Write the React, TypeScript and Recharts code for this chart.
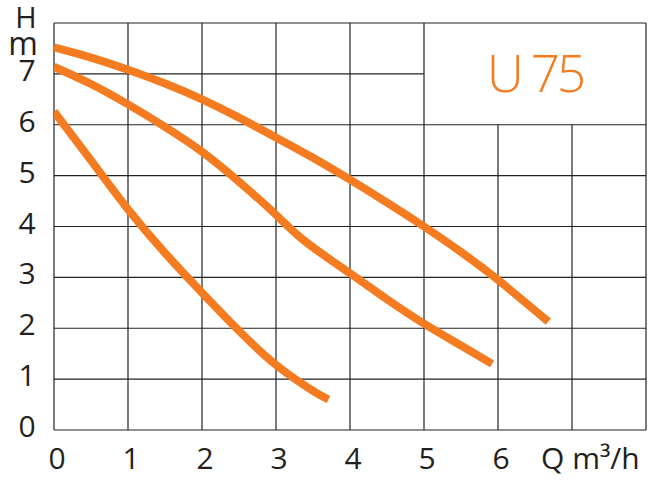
import React from 'react';
import { LineChart, Line, XAxis, YAxis, ReferenceLine, ReferenceArea, Label } from 'recharts';

// Pump curves (Q in m³/h, H in m)
const flowHigh = [0, 0.5, 1, 1.5, 2, 2.5, 3, 3.5, 4, 4.5, 5, 5.5, 6, 6.68];
const headHigh = [7.52, 7.32, 7.08, 6.81, 6.5, 6.14, 5.75, 5.35, 4.92, 4.47, 4.0, 3.5, 2.95, 2.13];
const flowMid = [0, 0.5, 1, 1.5, 2, 2.5, 3, 3.4, 4, 4.5, 5, 5.5, 5.92];
const headMid = [7.14, 6.8, 6.4, 5.96, 5.47, 4.88, 4.23, 3.7, 3.08, 2.57, 2.09, 1.66, 1.3];
const flowLow = [0, 0.5, 1, 1.5, 2, 2.5, 3, 3.5, 3.71];
const headLow = [6.26, 5.3, 4.34, 3.48, 2.7, 1.95, 1.28, 0.77, 0.6];

const xTicks = [0, 1, 2, 3, 4, 5, 6, 7];
const xTickLabels = ['0', '1', '2', '3', '4', '5', '6', 'Q m³/h'];
const yTicks = [0, 1, 2, 3, 4, 5, 6, 7, 8];
const yTickLabels = ['0', '1', '2', '3', '4', '5', '6', '7', 'm'];
const yTitle = 'H';
const modelName = 'U 75';

// grid structure
const fullRows = [0, 1, 2, 3, 4, 5, 6, 8];
const shortRows = [7];
const fullCols = [0, 1, 2, 3, 4, 5, 8];
const shortCols = [6, 7];

const toData = (qs: number[], hs: number[]) => qs.map((q, i) => ({ q, h: hs[i] }));
const highData = toData(flowHigh, headHigh);
const midData = toData(flowMid, headMid);
const lowData = toData(flowLow, headLow);

const FONT = "'Open Sans', 'Noto Sans', sans-serif";
const TEXT = '#231f20';
const ORANGE = '#F47B20';
const GRID = '#222';

const XTick = (props: any) => {
  const { x, y, payload } = props;
  const idx = xTicks.indexOf(payload.value);
  const label = xTickLabels[idx];
  const isUnit = idx === xTicks.length - 1;
  return (
    <text
      x={isUnit ? x - 31 : x + 3}
      y={y + 39}
      textAnchor={isUnit ? 'start' : 'middle'}
      fontFamily={FONT}
      fontSize={30}
      fill={TEXT}
    >
      {label}
    </text>
  );
};

const YTick = (props: any) => {
  const { y, payload } = props;
  const idx = yTicks.indexOf(payload.value);
  const label = yTickLabels[idx];
  if (idx === yTicks.length - 1) {
    return (
      <g>
        <text x={26} y={y + 5} textAnchor="middle" fontFamily={FONT} fontSize={29} fill={TEXT}>
          {yTitle}
        </text>
        <text x={23} y={y + 32} textAnchor="middle" fontFamily={FONT} fontSize={32} fill={TEXT}>
          {label}
        </text>
      </g>
    );
  }
  return (
    <text x={27} y={y + 7} textAnchor="middle" fontFamily={FONT} fontSize={30} fill={TEXT}>
      {label}
    </text>
  );
};

export default function App() {
  return (
    <div style={{ position: 'absolute', left: 0, top: 0, width: 670, height: 484, background: '#fff' }}>
      <LineChart width={670} height={484} margin={{ top: 23, right: 24, bottom: 0, left: 0 }}>
        <XAxis
          type="number"
          dataKey="q"
          domain={[0, 8]}
          ticks={xTicks}
          interval={0}
          axisLine={false}
          tickLine={false}
          tickSize={0}
          tickMargin={0}
          height={54}
          tick={<XTick />}
          allowDataOverflow
        />
        <YAxis
          type="number"
          dataKey="h"
          domain={[0, 8]}
          ticks={yTicks}
          interval={0}
          axisLine={false}
          tickLine={false}
          tickSize={0}
          tickMargin={0}
          width={54}
          tick={<YTick />}
          allowDataOverflow
        />
        {fullRows.map((r) => (
          <ReferenceLine key={'fr' + r} segment={[{ x: 0, y: r }, { x: 8, y: r }]} stroke={GRID} strokeWidth={1.2} ifOverflow="visible" />
        ))}
        {shortRows.map((r) => (
          <ReferenceLine key={'sr' + r} segment={[{ x: 0, y: r }, { x: 5, y: r }]} stroke={GRID} strokeWidth={1.2} ifOverflow="visible" />
        ))}
        {fullCols.map((c) => (
          <ReferenceLine key={'fc' + c} segment={[{ x: c, y: 0 }, { x: c, y: 8 }]} stroke={GRID} strokeWidth={1.2} ifOverflow="visible" />
        ))}
        {shortCols.map((c) => (
          <ReferenceLine key={'sc' + c} segment={[{ x: c, y: 0 }, { x: c, y: 6 }]} stroke={GRID} strokeWidth={1.2} ifOverflow="visible" />
        ))}
        <ReferenceArea x1={5} x2={8} y1={6} y2={8} fill="none" stroke="none" ifOverflow="visible">
          <Label value={modelName} position="center" fill={ORANGE} fontSize={51} fontFamily={FONT} fontWeight={300} letterSpacing={-3} />
        </ReferenceArea>
        <Line data={highData} dataKey="h" type="natural" stroke={ORANGE} strokeWidth={8} dot={false} activeDot={false} isAnimationActive={false} />
        <Line data={midData} dataKey="h" type="natural" stroke={ORANGE} strokeWidth={8} dot={false} activeDot={false} isAnimationActive={false} />
        <Line data={lowData} dataKey="h" type="natural" stroke={ORANGE} strokeWidth={8} dot={false} activeDot={false} isAnimationActive={false} />
      </LineChart>
    </div>
  );
}
